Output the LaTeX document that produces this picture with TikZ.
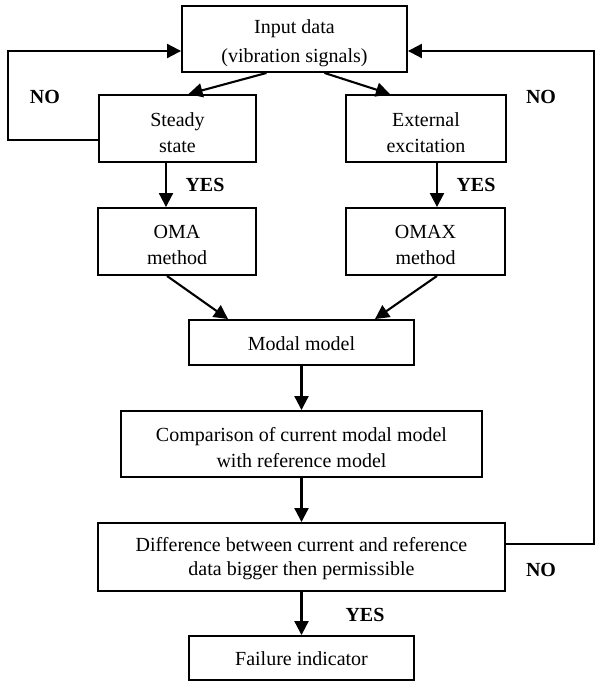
\documentclass[tikz,border=0pt]{standalone}
\usepackage{fontspec}
\setmainfont{Liberation Serif}
\usetikzlibrary{arrows.meta}
\begin{document}
\begin{tikzpicture}[x=1pt,y=-1pt,
  box/.style={draw,line width=1.9pt,rectangle,inner sep=0pt},
  txt/.style={align=center,inner sep=0pt,font=\fontsize{20}{26}\selectfont},
  arr/.style={line width=2.1pt,-{Triangle[length=14pt,width=14pt]}},
  lbl/.style={font=\fontsize{20}{22}\selectfont\bfseries}]
\useasboundingbox (0,0) rectangle (597,681);
\node[box,minimum width=225pt,minimum height=66pt] (input) at (294.5,39) {};
\node[box,minimum width=157pt,minimum height=67pt] (steady) at (177.5,128.5) {};
\node[box,minimum width=160pt,minimum height=67pt] (ext) at (426,128.5) {};
\node[box,minimum width=158pt,minimum height=67pt] (oma) at (177,241.5) {};
\node[box,minimum width=159pt,minimum height=67pt] (omax) at (425.5,241.5) {};
\node[box,minimum width=225pt,minimum height=45pt] (modal) at (301.5,342.5) {};
\node[box,minimum width=361pt,minimum height=66pt] (comp) at (301.5,444) {};
\node[box,minimum width=407pt,minimum height=68pt] (diff) at (301.5,557) {};
\node[box,minimum width=225pt,minimum height=44pt] (fail) at (301.5,658) {};
% texts
\node[txt,font=\fontsize{20}{29}\selectfont] (tinput) at ([yshift=-4pt]input.center) {Input data\\(vibration signals)};
\node[txt] (tsteady) at ([yshift=-4pt]steady.center) {Steady\\state};
\node[txt] (text) at ([yshift=-4pt]ext.center) {External\\excitation};
\node[txt] (toma) at ([yshift=-3pt]oma.center) {OMA\\method};
\node[txt] (tomax) at ([yshift=-3pt]omax.center) {OMAX\\method};
\node[txt] (tmodal) at ([yshift=-1pt]modal.center) {Modal model};
\node[txt] (tcomp) at ([yshift=-4pt]comp.center) {Comparison of current modal model\\with reference model};
\node[txt,font=\fontsize{20}{24}\selectfont] (tdiff) at ([yshift=-2pt]diff.center) {Difference between current and reference\\data bigger then permissible};
\node[txt] (tfail) at ([yshift=-1pt]fail.center) {Failure indicator};
% labels
\node[lbl] (no1) at (45,97) {NO};
\node[lbl] (no2) at (541,97) {NO};
\node[lbl] (yes1) at (205,185) {YES};
\node[lbl] (yes2) at (476,185) {YES};
\node[lbl] (no3) at (541,570) {NO};
\node[lbl] (yes3) at (365,615) {YES};
% coordinates
\coordinate (l1) at (8,140);
\coordinate (l2) at (8,51);
\coordinate (r1) at (594,544);
\coordinate (r2) at (594,51);
% arrows
\draw[arr] ([xshift=-28pt]input.south) -- ([xshift=11pt]steady.north);
\draw[arr] ([xshift=30pt]input.south) -- ([xshift=-36pt]ext.north);
\draw[arr] ([xshift=-11.5pt]steady.south) -- ([xshift=-11pt]oma.north);
\draw[arr] ([xshift=11pt]ext.south) -- ([xshift=11.5pt]omax.north);
\draw[arr] ([xshift=-10pt]oma.south) -- ([xshift=-73.5pt]modal.north);
\draw[arr] ([xshift=11.5pt]omax.south) -- ([xshift=73.5pt]modal.north);
\draw[arr] (modal) -- (comp);
\draw[arr] (comp) -- (diff);
\draw[arr] (diff) -- (fail);
\draw[arr] (steady.west |- l1) -- (l1) -- (l2) -- (input.west |- l2);
\draw[arr] (diff.east |- r1) -- (r1) -- (r2) -- (input.east |- r2);
\end{tikzpicture}
\end{document}
